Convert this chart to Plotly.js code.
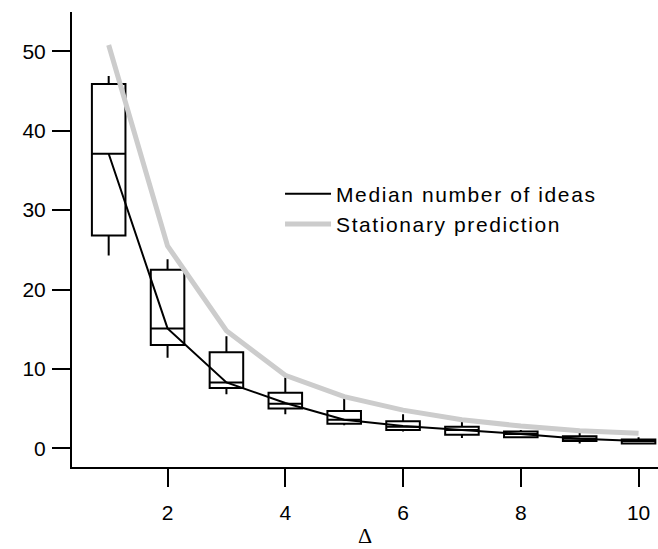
<!DOCTYPE html>
<html>
<head>
<meta charset="utf-8">
<script src="https://cdn.plot.ly/plotly-3.0.1.min.js"></script>
<style>
html,body{margin:0;padding:0;background:#fff;}
.legendtext{letter-spacing:1.6px;}
</style>
</head>
<body>
<div id="chart" style="width:658px;height:549px;"></div>
<script>
const delta = [1, 2, 3, 4, 5, 6, 7, 8, 9, 10];
const boxMin = [24.3, 11.4, 6.8, 4.3, 2.9, 2.1, 1.3, 1.3, 0.6, 0.5];
const boxQ1 = [26.8, 13.0, 7.6, 5.0, 3.1, 2.3, 1.7, 1.4, 0.9, 0.6];
const boxMedian = [37.1, 15.1, 8.3, 5.6, 3.6, 2.7, 2.3, 1.8, 1.2, 0.9];
const boxQ3 = [45.9, 22.5, 12.1, 7.0, 4.7, 3.4, 2.7, 2.1, 1.5, 1.1];
const boxMax = [46.9, 23.8, 14.1, 8.9, 6.6, 4.3, 3.8, 2.3, 2.3, 1.4];
const medianLine = [37.1, 15.1, 8.3, 5.7, 3.6, 2.8, 2.3, 1.8, 1.2, 0.9];
const stationary = [50.8, 25.5, 14.8, 9.2, 6.5, 4.8, 3.6, 2.8, 2.2, 1.9];

const font = 'Liberation Sans, Arial, sans-serif';

const traces = [
  {
    type: 'box', x: delta, q1: boxQ1, median: boxMedian, q3: boxQ3,
    lowerfence: boxMin, upperfence: boxMax,
    width: 0.57, whiskerwidth: 0, fillcolor: 'rgba(0,0,0,0)',
    line: {color: '#000', width: 2}, showlegend: false, hoverinfo: 'skip'
  },
  {
    type: 'scatter', mode: 'lines', x: delta, y: medianLine,
    name: 'Median number of ideas', line: {color: '#000', width: 2}
  },
  {
    type: 'scatter', mode: 'lines', x: delta, y: stationary,
    name: 'Stationary prediction', line: {color: '#cccccc', width: 5}
  }
];

const layout = {
  width: 658, height: 549,
  margin: {l: 72, r: 0, t: 12, b: 82},
  paper_bgcolor: '#fff', plot_bgcolor: '#fff',
  font: {family: font, size: 20, color: '#000'},
  showlegend: true,
  legend: {
    x: 0.355, y: 0.645, xanchor: 'left', yanchor: 'top',
    bgcolor: 'rgba(0,0,0,0)', font: {family: font, size: 21, color: '#000'},
    itemwidth: 46, tracegroupgap: 0
  },
  xaxis: {
    range: [0.377, 10.33], tickvals: [2, 4, 6, 8, 10],
    showgrid: false, zeroline: false, showline: true, linewidth: 2, linecolor: '#000',
    ticks: 'outside', ticklen: 18, tickwidth: 2, tickcolor: '#000',
    tickfont: {family: font, size: 21}, ticklabelstandoff: 8,
    title: {text: 'Δ', font: {family: 'Liberation Serif, Times New Roman, serif', size: 22}, standoff: 4}
  },
  yaxis: {
    range: [-2.36, 54.96], tickvals: [0, 10, 20, 30, 40, 50],
    showgrid: false, zeroline: false, showline: true, linewidth: 2, linecolor: '#000',
    ticks: 'outside', ticklen: 18, tickwidth: 2, tickcolor: '#000',
    tickfont: {family: font, size: 21}, ticklabelstandoff: 2
  }
};

Plotly.newPlot('chart', traces, layout, {displayModeBar: false, staticPlot: true});
</script>
</body>
</html>
